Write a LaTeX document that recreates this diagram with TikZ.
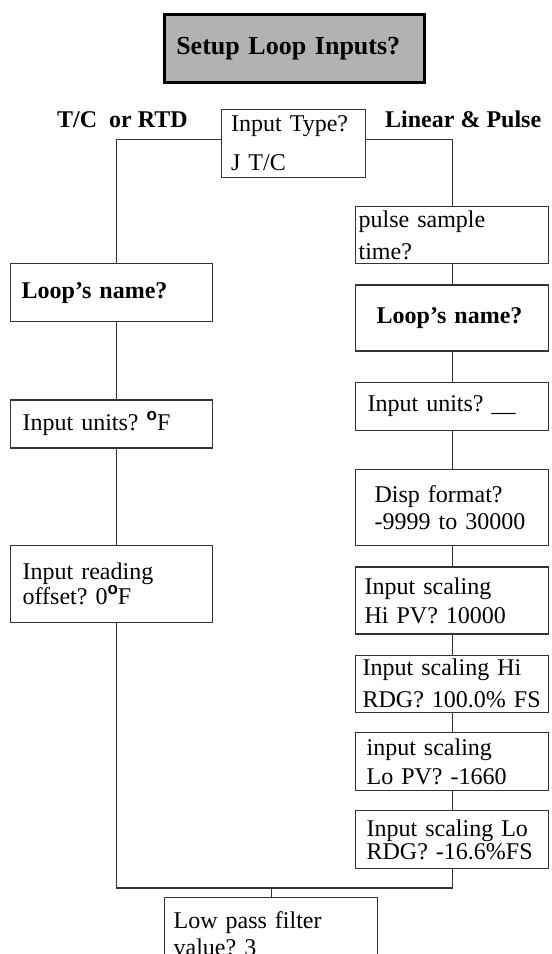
\documentclass[tikz,border=0pt]{standalone}
\usepackage{fontspec}
\setmainfont{Liberation Serif}
\setsansfont{Liberation Sans}
\usetikzlibrary{positioning}
\definecolor{LineGray}{HTML}{333333}
\definecolor{TitleGray}{HTML}{B2B2B2}
\newcommand{\degF}{\raisebox{10pt}{\fontsize{17}{17}\sffamily\bfseries o}F}
\newcommand{\qsize}[1]{\fontsize{24}{#1}\selectfont\frenchspacing}

\begin{document}
\begin{tikzpicture}[
    x=1pt, y=-1pt,
    title/.style = {rectangle, draw=black, fill=TitleGray, line width=2.5pt, minimum height=68pt, text width=236pt, inner xsep=12pt, inner ysep=0pt, align=left, font=\fontsize{26}{30}\selectfont\bfseries},
    question/.style = {rectangle, draw=LineGray, line width=1.3pt, inner ysep=1pt, align=left},
    branch/.style = {inner sep=0pt, font=\fontsize{24}{28}\selectfont\bfseries},
    link/.style = {draw=LineGray, line width=1.3pt}
]
    \clip (0,0) rectangle (552,954);

    \node [title, anchor=north west] (setup) at (163,13) {Setup Loop Inputs?};
    \node [question, anchor=north west, text width=125pt, inner xsep=9.5pt, minimum height=68pt, font=\qsize{39}] (type) at (221,109) {Input Type?\\J T/C};
    \node [branch, anchor=base west] (tclabel) at (57,127) {T/C~ or RTD};
    \node [branch, anchor=base west] (linlabel) at (385,127) {Linear \& Pulse};

    % T/C or RTD column
    \node [question, anchor=north west, text width=180pt, inner xsep=11pt, minimum height=58pt, font=\qsize{28}\bfseries] (tcname) at (10,263) {Loop's name?};
    \node [question, below=77pt of tcname, text width=178pt, inner xsep=12pt, minimum height=48pt, font=\qsize{28}] (tcunits) {Input units? \degF};
    \node [question, below=96pt of tcunits, text width=178pt, inner xsep=12pt, minimum height=77pt, font=\qsize{24}] (tcoffset) {Input reading\\offset? 0\degF};

    % Linear & Pulse column
    \node [question, anchor=north west, text width=187pt, inner xsep=3pt, minimum height=57pt, font=\qsize{32}] (plsample) at (355,206) {pulse sample\\time?};
    \node [question, below=20pt of plsample, text width=151pt, inner xsep=21pt, minimum height=66pt, font=\qsize{28}\bfseries] (plname) {Loop's name?};
    \node [question, below=30pt of plname, text width=169pt, inner xsep=12pt, minimum height=48pt, font=\qsize{28}] (plunits) {Input units? \_\_};
    \node [question, below=38pt of plunits, text width=155pt, inner xsep=19pt, minimum height=76pt, font=\qsize{27}] (plformat) {Disp format?\\-9999 to 30000};
    \node [question, below=20pt of plformat, text width=175pt, inner xsep=9pt, minimum height=67pt, font=\qsize{29}] (plhipv) {Input scaling\\Hi PV? 10000};
    \node [question, below=20pt of plhipv, text width=179pt, inner xsep=7pt, minimum height=57pt, font=\qsize{32}] (plhirdg) {Input scaling Hi\\RDG? 100.0\% FS};
    \node [question, below=19pt of plhirdg, text width=171pt, inner xsep=11pt, minimum height=58pt, font=\qsize{29}] (pllopv) {input scaling\\Lo PV? -1660};
    \node [question, below=19pt of pllopv, text width=171pt, inner xsep=11pt, minimum height=58pt, font=\qsize{23}] (plordg) {Input scaling Lo\\RDG? -16.6\%FS};

    \node [question, anchor=north west, text width=195pt, inner xsep=9pt, minimum height=72pt, font=\qsize{27}] (filter) at (164,897) {Low pass filter\\value? 3};
    \coordinate (merge) at ([yshift=9pt]filter.north);

    \draw [link] ([yshift=4pt]type.west) -| ([xshift=5pt]tcname.north);
    \draw [link] ([yshift=4pt]type.east) -| (plsample.north);
    \draw [link] ([xshift=5pt]tcname.south) -- ([xshift=5pt]tcunits.north);
    \draw [link] ([xshift=5pt]tcunits.south) -- ([xshift=5pt]tcoffset.north);
    \draw [link] (plsample) -- (plname);
    \draw [link] (plname) -- (plunits);
    \draw [link] (plunits) -- (plformat);
    \draw [link] (plformat) -- (plhipv);
    \draw [link] (plhipv) -- (plhirdg);
    \draw [link] (plhirdg) -- (pllopv);
    \draw [link] (pllopv) -- (plordg);
    \draw [link] ([xshift=5pt]tcoffset.south) |- (merge) -| (plordg.south);
    \draw [link] (merge) -- (filter.north);
\end{tikzpicture}
\end{document}
